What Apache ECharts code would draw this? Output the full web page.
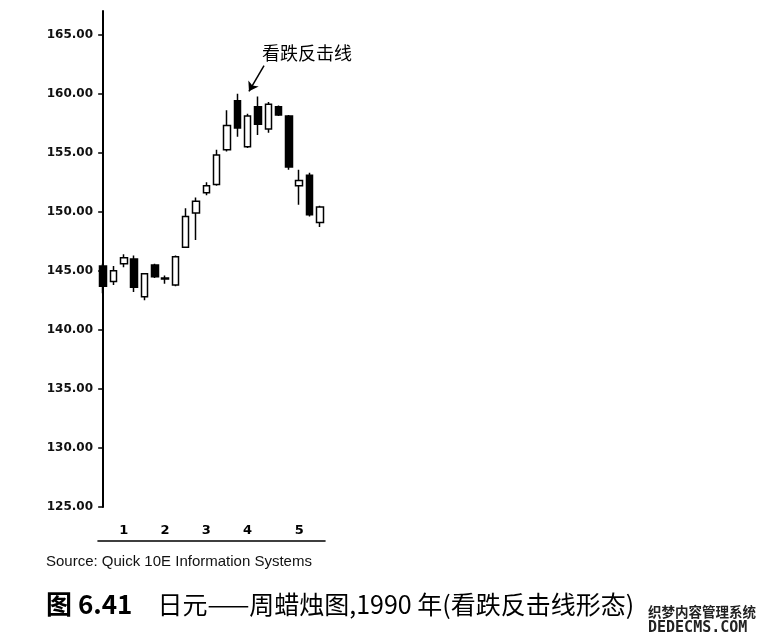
<!DOCTYPE html>
<html>
<head>
<meta charset="utf-8">
<script src="https://cdn.jsdelivr.net/npm/echarts@6/dist/echarts.min.js"></script>
<style>html,body{margin:0;padding:0;background:#fff;}#c{width:759px;height:641px;}</style>
</head>
<body>
<div id="c"></div>
<script>
// weekly candles, 1990 (index = week)
var weeks = ['1','2','3','4','5','6','7','8','9','10','11','12','13','14','15','16','17','18','19','20','21','22'];
var opens  = [145.4,144.1,145.6,146.0,142.8,145.5,144.4,143.8,147.0,149.9,151.6,152.3,155.25,159.4,155.5,158.9,157.0,158.9,158.1,152.2,153.1,149.1];
var closes = [143.7,145.0,146.1,143.6,144.75,144.5,144.3,146.2,149.6,150.9,152.2,154.8,157.3,157.1,158.1,157.4,159.1,158.2,153.8,152.65,149.75,150.4];
var lows   = [143.1,143.8,145.3,143.2,142.5,144.4,143.9,143.7,146.95,147.6,151.4,152.2,155.1,156.35,155.4,156.5,156.7,158.1,153.55,150.6,149.6,148.7];
var highs  = [145.6,145.4,146.4,146.3,144.8,145.6,144.6,146.3,150.3,151.2,152.5,155.25,158.6,160.0,158.3,159.75,159.3,159.0,158.2,153.55,153.3,150.5];
// month labels on the x axis (week index -> month)
var monthIndex = [2,6,10,14,19];
var monthLabels = ['1','2','3','4','5'];
// y axis tick values
var yTicks = [125,130,135,140,145,150,155,160,165];
// annotation arrow (week position, price)
var arrowFrom = [15.59, 162.37];
var arrowTo = [14.13, 160.2];
var annotationText = '看跌反击线';

var ohlc = weeks.map(function(w,i){ return [opens[i], closes[i], lows[i], highs[i]]; });

var chart = echarts.init(document.getElementById('c'), null, {renderer:'canvas'});
chart.setOption({
  backgroundColor:'#fff',
  animation:false,
  title:[
    {text:'Source: Quick 10E Information Systems', left:46, top:554, padding:0,
     textStyle:{fontFamily:'Liberation Sans', fontSize:15, fontWeight:'normal', color:'#111'}},
    {text:'{b|图 6.41}     {n|日元——周蜡烛图,1990 年(看跌反击线形态)}', left:46, top:591, padding:0,
     textStyle:{rich:{
       b:{fontFamily:'Noto Sans CJK SC', fontSize:26, fontWeight:'bold', color:'#000'},
       n:{fontFamily:'Noto Sans CJK SC', fontSize:25, fontWeight:'normal', color:'#000'}
     }}},
    {text:'{a|织梦内容管理系统}\n{b|DEDECMS.COM}', left:648, top:603, padding:0,
     textStyle:{rich:{
       a:{fontFamily:'Noto Sans CJK SC', fontSize:13.5, color:'#222', fontWeight:'bold', lineHeight:17},
       b:{fontFamily:'DejaVu Sans Mono', fontSize:15, color:'#222', fontWeight:'bold', lineHeight:17}
     }}}
  ],
  graphic:[
    {type:'text', left:262, top:44,
     style:{text:annotationText, fontFamily:'Noto Sans CJK SC', fontSize:18, fill:'#000'}}
  ],
  grid:{left:98, width:227, top:11, bottom:134},
  xAxis:[
    {type:'category', data:weeks, boundaryGap:true, offset:34,
     axisLine:{show:true, lineStyle:{color:'#000', width:1.6}},
     axisTick:{show:false},
     axisLabel:{inside:true, margin:4, interval:function(idx){return monthIndex.indexOf(idx)>=0;},
       formatter:function(v,idx){var k=monthIndex.indexOf(idx);return k>=0?monthLabels[k]:'';},
       fontFamily:'DejaVu Sans', fontSize:13, fontWeight:'bold', color:'#000'},
     splitLine:{show:false}},
    {type:'value', min:-0.5, max:weeks.length-0.5, show:false}
  ],
  yAxis:{type:'value', min:125, max:167,
    axisLine:{show:true, lineStyle:{color:'#000', width:2}},
    axisTick:{show:true, length:5, customValues:yTicks, lineStyle:{color:'#000', width:1.5}},
    axisLabel:{customValues:yTicks, formatter:function(v){return v.toFixed(2);}, margin:5,
      verticalAlign:'middle', padding:[0,0,6,0], fontFamily:'DejaVu Sans', fontSize:12, fontWeight:'bold', color:'#111'},
    splitLine:{show:false}},
  series:[
    {type:'candlestick', data:ohlc, xAxisIndex:0, barWidth:7,
     itemStyle:{color:'#fff', color0:'#000', borderColor:'#000', borderColor0:'#000', borderWidth:1.5}},
    {type:'line', xAxisIndex:1, data:[], symbol:'none',
     markLine:{silent:true, symbol:['none','arrow'], symbolSize:9,
       lineStyle:{color:'#000', width:1.5, type:'solid'}, label:{show:false},
       data:[[{coord:arrowFrom},{coord:arrowTo}]]}}
  ]
});
</script>
</body>
</html>
